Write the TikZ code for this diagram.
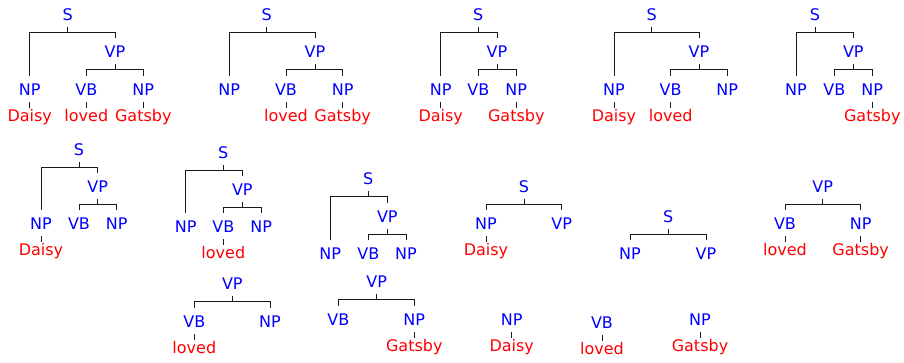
\documentclass[tikz,border=0pt]{standalone}
\usepackage{fontspec}
\setmainfont{DejaVu Sans}

\begin{document}
\begin{tikzpicture}[x=0.75pt,y=-0.75pt]

% Stili per categorie, parole e rami
\tikzset{
  cat/.style={text=blue, font=\fontsize{12}{14}\selectfont, inner sep=0pt,
    text height=8.7pt, text depth=0pt, outer ysep=5.25pt, anchor=base},
  parola/.style={cat, text=red, outer ysep=1pt},
  linea/.style={black!90, line width=0.7pt},
  ramo/.style={to path={-- ++(0,5) -| (\tikztotarget)}}
}
\useasboundingbox (0,0) rectangle (904,362);

% --- Riga superiore: alberi con S ---
% Albero 1
\node[cat] (s1) at (67.7,20) {S};
\node[cat] (vp1) at (115,57) {VP};
\node[cat] (np1) at (29.7,95) {NP};
\node[cat] (vb1) at (86.3,95) {VB};
\node[cat] (npb1) at (143.3,95) {NP};
\node[parola] (daisy1) at (29.7,121) {Daisy};
\node[parola] (loved1) at (86.3,121) {loved};
\node[parola] (gatsby1) at (143.3,121) {Gatsby};
\draw[linea] (s1.south) to[ramo] (np1.north) (s1.south) to[ramo] (vp1.north);
\draw[linea] (vp1.south) to[ramo] (vb1.north) (vp1.south) to[ramo] (npb1.north);
\draw[linea] (np1.south) -- (daisy1.north) (vb1.south) -- (loved1.north)
  (npb1.south) -- (gatsby1.north);

% Albero 2
\node[cat] (s2) at (266.7,20) {S};
\node[cat] (vp2) at (315,57) {VP};
\node[cat] (np2) at (229.3,95) {NP};
\node[cat] (vb2) at (286,95) {VB};
\node[cat] (npb2) at (342.7,95) {NP};
\node[parola] (loved2) at (286,121) {loved};
\node[parola] (gatsby2) at (342.7,121) {Gatsby};
\draw[linea] (s2.south) to[ramo] (np2.north) (s2.south) to[ramo] (vp2.north);
\draw[linea] (vp2.south) to[ramo] (vb2.north) (vp2.south) to[ramo] (npb2.north);
\draw[linea] (vb2.south) -- (loved2.north) (npb2.south) -- (gatsby2.north);

% Albero 3
\node[cat] (s3) at (478.3,20) {S};
\node[cat] (vp3) at (497,57) {VP};
\node[cat] (np3) at (440.7,95) {NP};
\node[cat] (vb3) at (478.3,95) {VB};
\node[cat] (npb3) at (516.3,95) {NP};
\node[parola] (daisy3) at (440.7,121) {Daisy};
\node[parola] (gatsby3) at (516.3,121) {Gatsby};
\draw[linea] (s3.south) to[ramo] (np3.north) (s3.south) to[ramo] (vp3.north);
\draw[linea] (vp3.south) to[ramo] (vb3.north) (vp3.south) to[ramo] (npb3.north);
\draw[linea] (np3.south) -- (daisy3.north) (npb3.south) -- (gatsby3.north);

% Albero 4
\node[cat] (s4) at (651.7,20) {S};
\node[cat] (vp4) at (699,57) {VP};
\node[cat] (np4) at (614,95) {NP};
\node[cat] (vb4) at (670.7,95) {VB};
\node[cat] (npb4) at (727.3,95) {NP};
\node[parola] (daisy4) at (614,121) {Daisy};
\node[parola] (loved4) at (670.7,121) {loved};
\draw[linea] (s4.south) to[ramo] (np4.north) (s4.south) to[ramo] (vp4.north);
\draw[linea] (vp4.south) to[ramo] (vb4.north) (vp4.south) to[ramo] (npb4.north);
\draw[linea] (np4.south) -- (daisy4.north) (vb4.south) -- (loved4.north);

% Albero 5
\node[cat] (s5) at (815,20) {S};
\node[cat] (vp5) at (853.3,57) {VP};
\node[cat] (np5) at (796,95) {NP};
\node[cat] (vb5) at (834.3,95) {VB};
\node[cat] (npb5) at (872.3,95) {NP};
\node[parola] (gatsby5) at (872.3,121) {Gatsby};
\draw[linea] (s5.south) to[ramo] (np5.north) (s5.south) to[ramo] (vp5.north);
\draw[linea] (vp5.south) to[ramo] (vb5.north) (vp5.south) to[ramo] (npb5.north);
\draw[linea] (npb5.south) -- (gatsby5.north);

% --- Riga centrale ---
% Albero 6
\node[cat] (s6) at (79,155) {S};
\node[cat] (vp6) at (97.7,192) {VP};
\node[cat] (np6) at (41,229) {NP};
\node[cat] (vb6) at (79,229) {VB};
\node[cat] (npb6) at (116.7,229) {NP};
\node[parola] (daisy6) at (41,255) {Daisy};
\draw[linea] (s6.south) to[ramo] (np6.north) (s6.south) to[ramo] (vp6.north);
\draw[linea] (vp6.south) to[ramo] (vb6.north) (vp6.south) to[ramo] (npb6.north);
\draw[linea] (np6.south) -- (daisy6.north);

% Albero 7
\node[cat] (s7) at (223.3,158) {S};
\node[cat] (vp7) at (242.3,195) {VP};
\node[cat] (np7) at (185.7,232) {NP};
\node[cat] (vb7) at (223.3,232) {VB};
\node[cat] (npb7) at (261.3,232) {NP};
\node[parola] (loved7) at (223.3,258) {loved};
\draw[linea] (s7.south) to[ramo] (np7.north) (s7.south) to[ramo] (vp7.north);
\draw[linea] (vp7.south) to[ramo] (vb7.north) (vp7.south) to[ramo] (npb7.north);
\draw[linea] (vb7.south) -- (loved7.north);

% Albero 8
\node[cat] (s8) at (368.3,184) {S};
\node[cat] (vp8) at (387.3,222) {VP};
\node[cat] (np8) at (330.3,259) {NP};
\node[cat] (vb8) at (368.3,259) {VB};
\node[cat] (npb8) at (406,259) {NP};
\draw[linea] (s8.south) to[ramo] (np8.north) (s8.south) to[ramo] (vp8.north);
\draw[linea] (vp8.south) to[ramo] (vb8.north) (vp8.south) to[ramo] (npb8.north);

% Albero 9
\node[cat] (s9) at (524,192) {S};
\node[cat] (np9) at (486,229) {NP};
\node[cat] (vp9) at (561.7,229) {VP};
\node[parola] (daisy9) at (486,255) {Daisy};
\draw[linea] (s9.south) to[ramo] (np9.north) (s9.south) to[ramo] (vp9.north);
\draw[linea] (np9.south) -- (daisy9.north);

% Albero 10
\node[cat] (s10) at (668.3,222) {S};
\node[cat] (np10) at (630,259) {NP};
\node[cat] (vp10) at (706,259) {VP};
\draw[linea] (s10.south) to[ramo] (np10.north) (s10.south) to[ramo] (vp10.north);

% Albero 11
\node[cat] (vp11) at (822.7,192) {VP};
\node[cat] (vb11) at (785,229) {VB};
\node[cat] (np11) at (860.7,229) {NP};
\node[parola] (loved11) at (785,255) {loved};
\node[parola] (gatsby11) at (860.7,255) {Gatsby};
\draw[linea] (vp11.south) to[ramo] (vb11.north) (vp11.south) to[ramo] (np11.north);
\draw[linea] (vb11.south) -- (loved11.north) (np11.south) -- (gatsby11.north);

% --- Riga inferiore ---
% Albero 12
\node[cat] (vp12) at (232.3,289) {VP};
\node[cat] (vb12) at (194.3,327) {VB};
\node[cat] (np12) at (270,327) {NP};
\node[parola] (loved12) at (194.3,353) {loved};
\draw[linea] (vp12.south) to[ramo] (vb12.north) (vp12.south) to[ramo] (np12.north);
\draw[linea] (vb12.south) -- (loved12.north);

% Albero 13
\node[cat] (vp13) at (376.7,287) {VP};
\node[cat] (vb13) at (338.3,325) {VB};
\node[cat] (np13) at (414.3,325) {NP};
\node[parola] (gatsby13) at (414.3,351) {Gatsby};
\draw[linea] (vp13.south) to[ramo] (vb13.north) (vp13.south) to[ramo] (np13.north);
\draw[linea] (np13.south) -- (gatsby13.north);

% Foglie isolate
\node[cat] (np14) at (511.7,325) {NP};
\node[parola] (daisy14) at (511.7,351) {Daisy};
\draw[linea] (np14.south) -- (daisy14.north);

\node[cat] (vb15) at (602,328) {VB};
\node[parola] (loved15) at (602,354) {loved};
\draw[linea] (vb15.south) -- (loved15.north);

\node[cat] (np16) at (700,325) {NP};
\node[parola] (gatsby16) at (700,351) {Gatsby};
\draw[linea] (np16.south) -- (gatsby16.north);
\end{tikzpicture}
\end{document}
